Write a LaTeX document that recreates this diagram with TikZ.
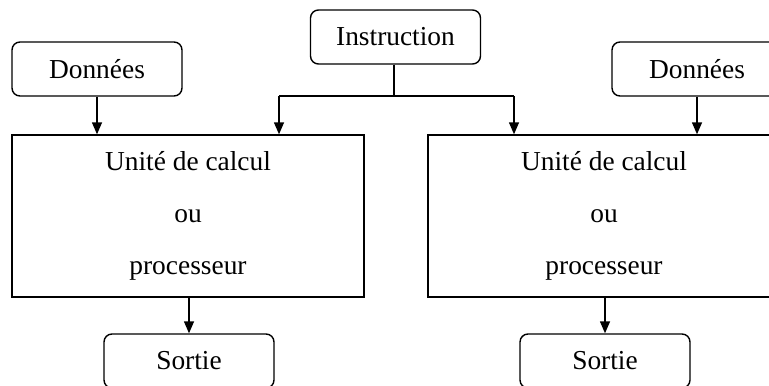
\documentclass[tikz,border=0pt]{standalone}
\usepackage{fontspec}
\setmainfont{Liberation Serif}
\usetikzlibrary{arrows.meta}

\begin{document}
\begin{tikzpicture}[x=0.5pt, y=-0.5pt,
  every node/.style={font=\fontsize{13.7}{26}\selectfont},
  boite/.style={draw, rounded corners=4pt, line width=0.7pt, minimum width=85pt, minimum height=27pt, inner sep=0pt},
  unite/.style={draw, line width=0.7pt, minimum width=176pt, minimum height=81pt, align=center, inner sep=0pt},
  fleche/.style={line width=0.7pt, -{Triangle[length=6pt, width=5pt]}}]
\clip (0,0) rectangle (769,385);
\node[boite] (don1) at (97,69) {Données};
\node[boite] (instr) at (395.5,37) {Instruction};
\node[boite] (don2) at (697,69) {Données};
\node[unite] (uc1) at (188,216) {Unité de calcul\\ou\\processeur};
\node[unite] (uc2) at (604,216) {Unité de calcul\\ou\\processeur};
\node[boite] (sor1) at (189,361) {Sortie};
\node[boite] (sor2) at (605,361) {Sortie};
\coordinate (j) at (394,96);
\coordinate (jl) at (279,96);
\coordinate (jr) at (514,96);
% donnees vers unites
\draw[fleche] (don1.south) -- (don1.south |- uc1.north);
\draw[fleche] (don2.south) -- (don2.south |- uc2.north);
% instruction
\draw[line width=0.7pt] (instr.south -| j) -- (j);
\draw[line width=0.7pt] (jl) -- (jr);
\draw[fleche] (jl) -- (jl |- uc1.north);
\draw[fleche] (jr) -- (jr |- uc2.north);
% sorties
\draw[fleche] (sor1.north |- uc1.south) -- (sor1.north);
\draw[fleche] (sor2.north |- uc2.south) -- (sor2.north);
\end{tikzpicture}
\end{document}
